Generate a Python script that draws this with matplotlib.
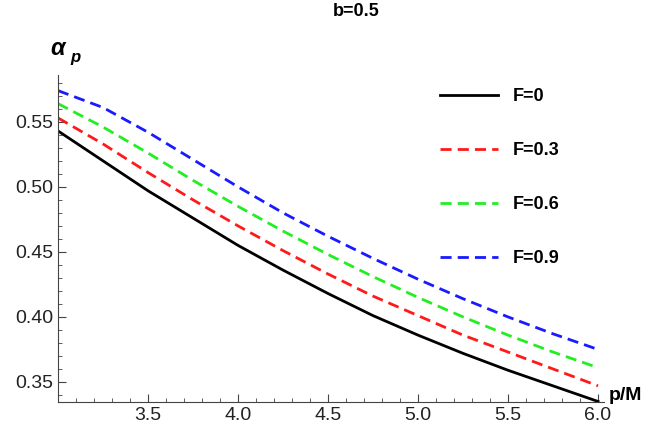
import numpy as np
import matplotlib
matplotlib.use("Agg")
import matplotlib.pyplot as plt

x = [3.0, 3.25, 3.5, 3.75, 4.0, 4.25, 4.5, 4.75, 5.0, 5.25, 5.5, 5.75, 6.0]
f0 = [0.543, 0.520, 0.497, 0.476, 0.455, 0.436, 0.418, 0.401, 0.386, 0.372, 0.359, 0.347, 0.335]
f03 = [0.553, 0.533, 0.511, 0.490, 0.470, 0.451, 0.433, 0.416, 0.401, 0.386, 0.373, 0.360, 0.347]
f06 = [0.564, 0.546, 0.526, 0.505, 0.485, 0.466, 0.448, 0.431, 0.415, 0.400, 0.386, 0.373, 0.361]
f09 = [0.574, 0.561, 0.542, 0.521, 0.500, 0.480, 0.462, 0.445, 0.429, 0.414, 0.400, 0.387, 0.375]
labels = ["F=0", "F=0.3", "F=0.6", "F=0.9"]

plt.rcParams["font.family"] = "Liberation Sans"
fig = plt.figure(figsize=(6.64, 4.34), dpi=100)
ax = fig.add_axes([58 / 664, 32 / 434, 546 / 664, 327 / 434])

ax.plot(x, f0, color="black", lw=2, label=labels[0])
ax.plot(x, f03, color="#ff1a1a", lw=2, ls=(0, (4, 2.2)), label=labels[1])
ax.plot(x, f06, color="#22ee22", lw=2, ls=(0, (4, 2.2)), label=labels[2])
ax.plot(x, f09, color="#1a1aff", lw=2, ls=(0, (4, 2.2)), label=labels[3])

ax.set_xlim(3.0, 6.033)
ax.set_ylim(0.3346, 0.586)
for s in ["top", "right"]:
    ax.spines[s].set_visible(False)
for s in ["left", "bottom"]:
    ax.spines[s].set_color("#444")
ax.set_xticks([3.5, 4.0, 4.5, 5.0, 5.5, 6.0])
ax.set_xticks(np.arange(3.0, 6.01, 0.1), minor=True)
ax.set_yticks([0.35, 0.40, 0.45, 0.50, 0.55])
ax.set_yticks(np.arange(0.34, 0.585, 0.01), minor=True)
ax.xaxis.set_major_formatter(matplotlib.ticker.FormatStrFormatter("%.1f"))
ax.yaxis.set_major_formatter(matplotlib.ticker.FormatStrFormatter("%.2f"))
ax.tick_params(which="both", direction="in", color="#444", labelcolor="#222", labelsize=14)
ax.tick_params(which="major", length=6)
ax.tick_params(which="minor", length=3)

# bold italic alpha with subscript p
ax.text(0.0, 1.045, "α", transform=ax.transAxes, fontsize=17, fontweight="bold",
        style="italic", ha="center", va="bottom")
ax.text(0.022, 1.03, "p", transform=ax.transAxes, fontsize=12, fontweight="bold",
        style="italic", ha="left", va="bottom")
ax.text(1.008, 0.02, "p/M", transform=ax.transAxes, fontsize=14, fontweight="bold", ha="left", va="center")
fig.text(356 / 664, 1 - 12 / 434, "b=0.5", fontsize=13, fontweight="bold", ha="center", va="center")

ax.legend(loc="upper left", bbox_to_anchor=(0.67, 1.01), frameon=False, handlelength=3.2,
          labelspacing=2.05, prop={"weight": "bold", "size": 13})

fig.savefig("out.png", dpi=100)
